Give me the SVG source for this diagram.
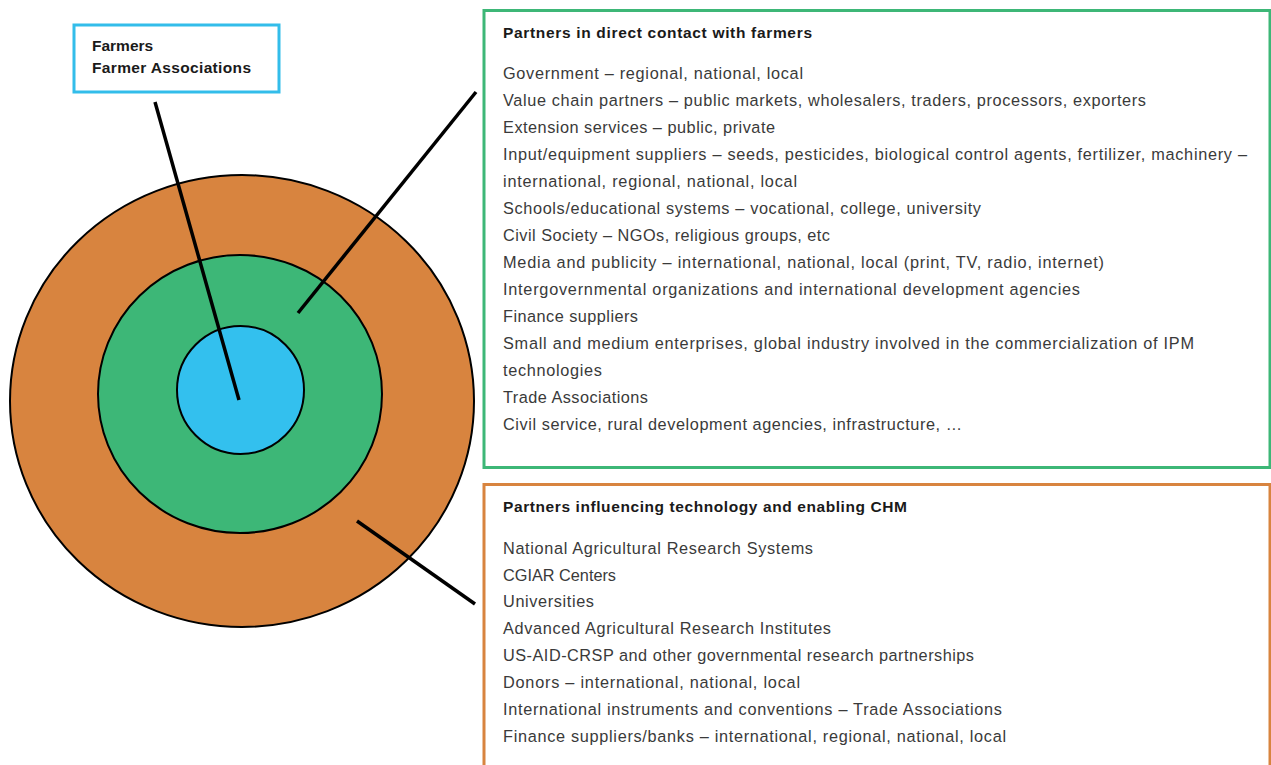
<svg xmlns="http://www.w3.org/2000/svg" width="1271" height="765" viewBox="0 0 1271 765">
<style>
.t{font-family:"Liberation Sans",Arial,sans-serif;font-size:16.3px;fill:#3a3a3a}
.h{font-family:"Liberation Sans",Arial,sans-serif;font-size:15.5px;font-weight:bold;fill:#1a1a1a}
.ring{stroke:#000;stroke-width:2}
.lead{stroke:#000;stroke-width:3.5;stroke-linecap:butt;fill:none}
</style>
<rect width="1271" height="765" fill="#fff"/>
<g id="rings">
<ellipse cx="242" cy="401" rx="232" ry="226" fill="#D8843F" class="ring"/>
<ellipse cx="240" cy="394" rx="142" ry="139" fill="#3DB777" class="ring"/>
<ellipse cx="240.5" cy="390" rx="63.5" ry="64" fill="#33C0EE" class="ring"/>
</g>
<g id="connectors">
<line class="lead" x1="155" y1="102" x2="239" y2="400"/>
<line class="lead" x1="298" y1="313" x2="476" y2="92"/>
<line class="lead" x1="357" y1="521" x2="475" y2="604"/>
</g>
<g id="farmers">
<rect x="74" y="25" width="205" height="67" fill="#fff" stroke="#33BDEA" stroke-width="3"/>
<text class="h" x="92" y="51">Farmers</text>
<text class="h" x="92" y="73" textLength="159">Farmer Associations</text>
</g>
<g id="direct-partners">
<rect x="484" y="10.5" width="786" height="457" fill="#fff" stroke="#3DB777" stroke-width="3"/>
<text class="h" x="503" y="38" textLength="309">Partners in direct contact with farmers</text>
<text class="t" x="503" y="79" textLength="300">Government – regional, national, local</text>
<text class="t" x="503" y="106" textLength="643">Value chain partners – public markets, wholesalers, traders, processors, exporters</text>
<text class="t" x="503" y="133" textLength="272">Extension services – public, private</text>
<text class="t" x="503" y="160" textLength="744">Input/equipment suppliers – seeds, pesticides, biological control agents, fertilizer, machinery –</text>
<text class="t" x="503" y="187" textLength="294">international, regional, national, local</text>
<text class="t" x="503" y="214" textLength="478">Schools/educational systems – vocational, college, university</text>
<text class="t" x="503" y="241" textLength="327">Civil Society – NGOs, religious groups, etc</text>
<text class="t" x="503" y="268" textLength="601">Media and publicity – international, national, local (print, TV, radio, internet)</text>
<text class="t" x="503" y="295" textLength="577">Intergovernmental organizations and international development agencies</text>
<text class="t" x="503" y="322" textLength="135">Finance suppliers</text>
<text class="t" x="503" y="349" textLength="691">Small and medium enterprises, global industry involved in the commercialization of IPM</text>
<text class="t" x="503" y="376" textLength="99">technologies</text>
<text class="t" x="503" y="403" textLength="145">Trade Associations</text>
<text class="t" x="503" y="430" textLength="459">Civil service, rural development agencies, infrastructure, …</text>
</g>
<g id="enabling-partners">
<rect x="484" y="484.5" width="786" height="300" fill="#fff" stroke="#D8843F" stroke-width="3"/>
<text class="h" x="503" y="512" textLength="404">Partners influencing technology and enabling CHM</text>
<text class="t" x="503" y="554" textLength="310">National Agricultural Research Systems</text>
<text class="t" x="503" y="581" textLength="113">CGIAR Centers</text>
<text class="t" x="503" y="607" textLength="91">Universities</text>
<text class="t" x="503" y="634" textLength="328">Advanced Agricultural Research Institutes</text>
<text class="t" x="503" y="661" textLength="471">US-AID-CRSP and other governmental research partnerships</text>
<text class="t" x="503" y="688" textLength="297">Donors – international, national, local</text>
<text class="t" x="503" y="715" textLength="499">International instruments and conventions – Trade Associations</text>
<text class="t" x="503" y="742" textLength="503">Finance suppliers/banks – international, regional, national, local</text>
</g>
</svg>
